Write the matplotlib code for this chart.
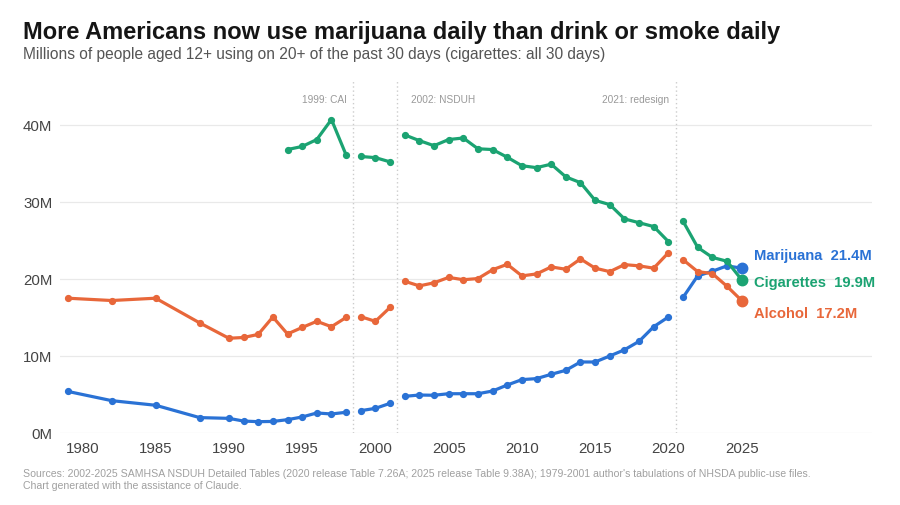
import matplotlib
matplotlib.use("Agg")
import matplotlib.pyplot as plt
import numpy as np

plt.rcParams['font.family'] = ['Liberation Sans', 'DejaVu Sans']

# ---------------- data ----------------
early_years = [1979, 1982, 1985, 1988, 1990, 1991, 1992, 1993, 1994, 1995, 1996, 1997, 1998]
cai_years = [1999, 2000, 2001]
nsduh_years = list(range(2002, 2021))
redesign_years = [2021, 2022, 2023, 2024, 2025]

marijuana_early = [5.4, 4.2, 3.6, 2.0, 1.9, 1.55, 1.47, 1.5, 1.73, 2.08, 2.6, 2.47, 2.69]
marijuana_cai = [2.9, 3.2, 3.85]
marijuana_nsduh = [4.76, 4.93, 4.9, 5.1, 5.1, 5.1, 5.45, 6.23, 6.93, 7.06, 7.62, 8.14,
                   9.22, 9.22, 10.0, 10.8, 11.9, 13.8, 15.06]
marijuana_redesign = [17.6, 20.4, 21.0, 21.7, 21.4]

cig_early_years = [1994, 1995, 1996, 1997, 1998]
cig_early = [36.8, 37.2, 38.1, 40.7, 36.1]
cig_cai = [35.9, 35.75, 35.2]
cig_nsduh = [38.7, 37.96, 37.3, 38.1, 38.3, 36.9, 36.8, 35.8, 34.7, 34.45, 34.9, 33.25,
             32.5, 30.2, 29.65, 27.8, 27.3, 26.8, 24.85]
cig_redesign = [27.5, 24.1, 22.8, 22.3, 19.9]

alcohol_early = [17.5, 17.2, 17.5, 14.3, 12.3, 12.4, 12.8, 15.06, 12.86, 13.7, 14.5, 13.8, 15.0]
alcohol_cai = [15.1, 14.5, 16.3]
alcohol_nsduh = [19.7, 19.1, 19.5, 20.2, 19.9, 20.05, 21.2, 21.9, 20.4, 20.65, 21.56, 21.26,
                 22.6, 21.4, 20.95, 21.86, 21.7, 21.4, 23.4]
alcohol_redesign = [22.5, 20.95, 20.7, 19.05, 17.2]

series_names = ["Marijuana", "Cigarettes", "Alcohol"]
final_labels = ["21.4M", "19.9M", "17.2M"]

break_years = [1998.5, 2001.5, 2020.5]
break_labels = ["1999: CAI", "2002: NSDUH", "2021: redesign"]

y_ticks = [0, 10, 20, 30, 40]
y_tick_labels = ["0M", "10M", "20M", "30M", "40M"]
x_ticks = [1980, 1985, 1990, 1995, 2000, 2005, 2010, 2015, 2020, 2025]

# ---------------- style ----------------
BLUE = "#2a72d5"
GREEN = "#1ba372"
ORANGE = "#e8673a"
colors = [BLUE, GREEN, ORANGE]

fig = plt.figure(figsize=(9, 5.06), dpi=100)
ax = fig.add_axes([60 / 900, 72 / 506, 812 / 900, 352 / 506])
ax.set_xlim(1978.47, 2033.9)
ax.set_ylim(0, 45.7)

for s in ax.spines.values():
    s.set_visible(False)
ax.set_yticks(y_ticks)
ax.set_yticklabels(y_tick_labels)
ax.set_xticks(x_ticks)
ax.tick_params(length=0, labelsize=10.8, colors="#444444")
ax.tick_params(axis='y', pad=5.5)
ax.tick_params(axis='x', pad=6)
ax.grid(axis='y', color="#e9e9e9", linewidth=0.9)
ax.set_axisbelow(True)

all_series = [
    [(early_years, marijuana_early), (cai_years, marijuana_cai),
     (nsduh_years, marijuana_nsduh), (redesign_years, marijuana_redesign)],
    [(cig_early_years, cig_early), (cai_years, cig_cai),
     (nsduh_years, cig_nsduh), (redesign_years, cig_redesign)],
    [(early_years, alcohol_early), (cai_years, alcohol_cai),
     (nsduh_years, alcohol_nsduh), (redesign_years, alcohol_redesign)],
]

for segs, c in zip(all_series, colors):
    for xs, ys in segs:
        ax.plot(xs, ys, color=c, linewidth=2.3, marker='o', markersize=4.2,
                solid_capstyle='round', solid_joinstyle='round', zorder=3)
    lx, ly = segs[-1][0][-1], segs[-1][1][-1]
    ax.plot([lx], [ly], 'o', color=c, markersize=7.5, zorder=4)

# break lines
for bx in break_years:
    ax.axvline(bx, color="#cccccc", linewidth=1.0, linestyle=(0, (1, 2)), zorder=1)

ax.annotate(break_labels[0], xy=(break_years[0], 43.4), xytext=(-5, 0),
            textcoords='offset points', ha='right', va='center', fontsize=7.3, color="#999999")
ax.annotate(break_labels[1], xy=(break_years[1], 43.4), xytext=(9.5, 0),
            textcoords='offset points', ha='left', va='center', fontsize=7.3, color="#999999")
ax.annotate(break_labels[2], xy=(break_years[2], 43.4), xytext=(-5, 0),
            textcoords='offset points', ha='right', va='center', fontsize=7.3, color="#999999")

# end labels
label_offsets = [9.5, -2.0, -9.0]  # points, vertical spread to avoid overlap
for segs, c, name, val, off in zip(all_series, colors, series_names, final_labels, label_offsets):
    lx, ly = segs[-1][0][-1], segs[-1][1][-1]
    ax.annotate(f"{name}  {val}", xy=(lx, ly), xytext=(9, off),
                textcoords='offset points', ha='left', va='center',
                fontsize=10.6, fontweight='bold', color=c)

# titles
fig.text(23 / 900, 1 - 32 / 506, "More Americans now use marijuana daily than drink or smoke daily",
         fontsize=17.0, fontweight='bold', color="#151515", va='center', ha='left')
fig.text(23 / 900, 1 - 55 / 506,
         "Millions of people aged 12+ using on 20+ of the past 30 days (cigarettes: all 30 days)",
         fontsize=11.2, color="#555555", va='center', ha='left')

fig.text(23 / 900, 1 - 474 / 506,
         "Sources: 2002-2025 SAMHSA NSDUH Detailed Tables (2020 release Table 7.26A; 2025 release Table 9.38A); "
         "1979-2001 author's tabulations of NHSDA public-use files.",
         fontsize=7.6, color="#a0a0a0", va='center', ha='left')
fig.text(23 / 900, 1 - 485.7 / 506, "Chart generated with the assistance of Claude.",
         fontsize=7.6, color="#a0a0a0", va='center', ha='left')

fig.savefig("out.png", dpi=100, facecolor="white")
